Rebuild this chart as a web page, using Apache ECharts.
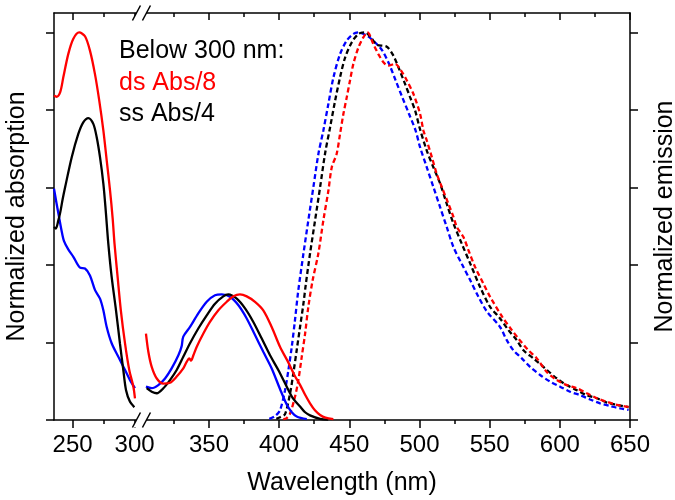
<!DOCTYPE html>
<html><head><meta charset="utf-8">
<script src="https://cdn.jsdelivr.net/npm/echarts@6/dist/echarts.min.js"></script>
<style>html,body{margin:0;padding:0;background:#fff}#c{width:675px;height:500px}</style>
</head><body><div id="c"></div>
<script>
// ---- tick values ----
const leftMajorTicks = [250, 300];
const leftMinorTicks = [275];
const rightMajorTicks = [350, 400, 450, 500, 550, 600, 650];
const rightMinorTicks = [325, 375, 425, 475, 525, 575, 625];
const yTicks = [0, 0.2, 0.4, 0.6, 0.8, 1.0];

// ---- absorption below 300 nm (scaled) ----
const dsAbsBelow300 = [[235,0.837],[237,0.834],[240,0.846],[242.5,0.884],[246.5,0.944],[250.5,0.983],[255.3,1.0],[260,0.99],[264,0.953],[268,0.893],[271.5,0.824],[274.8,0.747],[277.5,0.67],[280.2,0.592],[282.3,0.52],[283.8,0.455],[286.3,0.369],[288.9,0.283],[292.3,0.197],[295.7,0.129],[299,0.086],[300.3,0.056]];
const ssAbsBelow300 = [[235,0.498],[236.5,0.494],[238.5,0.515],[240,0.535],[242,0.57],[244,0.601],[249.3,0.678],[254.6,0.738],[258.6,0.768],[262.7,0.779],[266.7,0.764],[269.4,0.73],[272.1,0.678],[274.8,0.61],[276.7,0.541],[278.8,0.455],[281.5,0.369],[285,0.283],[288.2,0.197],[290.9,0.129],[293.1,0.077],[296.3,0.047],[299.8,0.033]];
const blueAbsBelow300 = [[235,0.597],[237,0.56],[239,0.525],[241,0.49],[243,0.462],[246.5,0.44],[250.6,0.421],[256,0.393],[260,0.391],[264,0.373],[268.1,0.335],[272.1,0.313],[274.8,0.283],[277.5,0.24],[281.5,0.198],[286.9,0.163],[292.3,0.129],[296.3,0.103],[300.3,0.082]];

// ---- absorption above 300 nm ----
const dsAbsAbove300 = [[305.1,0.223],[306.8,0.176],[309.2,0.137],[312.8,0.107],[317.5,0.094],[322.2,0.096],[327,0.112],[331.7,0.133],[334.1,0.15],[336,0.159],[337.2,0.153],[338.9,0.167],[341.3,0.189],[346,0.223],[350.7,0.253],[356.7,0.283],[362.7,0.305],[367.4,0.319],[372.1,0.324],[376.9,0.319],[382.8,0.305],[388.7,0.283],[394.7,0.24],[400.6,0.189],[406.6,0.148],[411,0.115],[415,0.09],[418.5,0.065],[422,0.043],[425.5,0.025],[429.2,0.013],[433,0.006],[438.6,0.002]];
const ssAbsAbove300 = [[305.6,0.082],[309.2,0.073],[312.8,0.069],[317.5,0.082],[322.2,0.103],[327,0.129],[331.7,0.163],[336.5,0.198],[342.4,0.236],[348.4,0.27],[354.3,0.3],[360.2,0.319],[363.8,0.324],[369.8,0.313],[375.7,0.288],[381.6,0.253],[387.6,0.21],[393.5,0.167],[399.4,0.129],[405.4,0.086],[410,0.055],[414.9,0.035],[418.5,0.02],[422,0.012],[429.2,0.003],[435,0.001]];
const blueAbsAbove300 = [[305.1,0.086],[309.2,0.082],[313.9,0.09],[318.7,0.107],[323.4,0.133],[328.2,0.167],[330.5,0.19],[331.7,0.215],[336.5,0.24],[342.4,0.275],[348.4,0.305],[354.3,0.322],[359.1,0.324],[365,0.318],[371,0.296],[376.9,0.262],[382.8,0.219],[388.7,0.176],[394.7,0.133],[400.6,0.08],[405.4,0.04],[409,0.02],[412.5,0.009],[419.7,0.002]];

// ---- emission ----
const blueEm = [[393,0.003],[397,0.01],[400.6,0.025],[404.2,0.077],[406.6,0.129],[409,0.189],[411.3,0.258],[413.5,0.33],[417.3,0.429],[420.8,0.515],[424.4,0.601],[428,0.687],[431.5,0.747],[435.1,0.816],[438.7,0.884],[443.4,0.944],[448.2,0.979],[452.9,0.996],[456.5,1.0],[462.8,0.991],[468.4,0.974],[473.5,0.953],[478.3,0.919],[483,0.876],[487.7,0.833],[492.5,0.79],[497.2,0.747],[500.4,0.704],[505.2,0.652],[509.9,0.601],[514.7,0.549],[519.4,0.498],[524.2,0.446],[530.1,0.403],[536.1,0.361],[542,0.318],[548,0.28],[557.4,0.24],[562.2,0.206],[566.9,0.18],[572.9,0.159],[578.8,0.137],[586,0.116],[593.1,0.099],[600.2,0.086],[607.3,0.073],[614.5,0.064],[621.6,0.053],[628.7,0.043],[635.8,0.036],[643,0.03],[649,0.026]];
const ssEm = [[398,0.003],[401,0.008],[404.2,0.015],[407.8,0.069],[410.1,0.12],[412.5,0.18],[414.9,0.24],[417.3,0.3],[419,0.35],[422,0.429],[425.6,0.515],[429.2,0.601],[432.7,0.687],[436.3,0.755],[439.9,0.824],[443.4,0.884],[447,0.935],[451.7,0.974],[456.5,0.996],[461.2,1.0],[466,0.984],[469.5,0.968],[476.7,0.963],[481.4,0.94],[485,0.91],[489.7,0.867],[493.3,0.833],[496.9,0.798],[500.4,0.75],[505.2,0.695],[509.9,0.652],[514.7,0.61],[519.4,0.558],[524.2,0.507],[530.1,0.455],[536.1,0.404],[543.2,0.343],[550.3,0.292],[557,0.264],[563.4,0.232],[569.3,0.206],[574.1,0.18],[581.2,0.159],[588.3,0.137],[597.9,0.107],[605,0.09],[612.1,0.077],[619.2,0.064],[626.4,0.056],[633.5,0.045],[640.6,0.039],[649,0.033]];
const dsEm = [[403,0.002],[405.4,0.005],[407.8,0.017],[411.3,0.06],[413.7,0.103],[416.1,0.163],[418.5,0.223],[420.8,0.292],[423.9,0.361],[427.9,0.429],[431.5,0.515],[435.1,0.592],[437.5,0.652],[441,0.687],[443.4,0.738],[445.8,0.79],[448.2,0.833],[450.5,0.876],[452.9,0.919],[456.5,0.961],[460,0.987],[463,1.0],[467.1,0.97],[470.7,0.944],[474.3,0.923],[477.8,0.914],[482.6,0.919],[486.2,0.905],[491,0.876],[495.7,0.841],[500.4,0.79],[502.8,0.747],[505.2,0.721],[508.8,0.678],[512.3,0.635],[515.9,0.601],[520.6,0.558],[524.2,0.524],[526.6,0.498],[531.3,0.472],[534.9,0.438],[539.6,0.395],[545.5,0.352],[550.3,0.318],[559,0.266],[565.8,0.232],[570.5,0.21],[577.6,0.18],[583.6,0.159],[590.7,0.124],[597.9,0.103],[605,0.09],[612.1,0.082],[619.2,0.069],[626.4,0.056],[633.5,0.047],[640.6,0.039],[649,0.034]];

const FONT = '"Liberation Sans", Arial, sans-serif';
const RED = '#ff0000', BLACK = '#000000', BLUE = '#0000ff';

function xAx(grid, min, max, pos, ticks, len, inside, line, labels) {
  return {
    type: 'value', gridIndex: grid, min: min, max: max, position: pos,
    axisLine: { show: line, onZero: false, lineStyle: { color: '#000', width: 1.5 } },
    axisTick: { show: true, customValues: ticks, length: len, inside: inside, lineStyle: { color: '#000', width: 1.5 } },
    axisLabel: labels ? { show: true, customValues: labels, fontSize: 24, fontFamily: FONT, color: '#000', margin: 13 } : { show: false },
    splitLine: { show: false }
  };
}
function yAx(grid, pos, name) {
  return {
    type: 'value', gridIndex: grid, min: 0, max: 1.05, position: pos,
    axisLine: { show: true, onZero: false, lineStyle: { color: '#000', width: 1.5 } },
    axisTick: { show: true, customValues: yTicks, length: 8, inside: false, lineStyle: { color: '#000', width: 1.5 } },
    axisLabel: { show: false },
    splitLine: { show: false },
    name: name, nameLocation: 'middle', nameRotate: 90, nameGap: pos === 'left' ? 24 : 23,
    nameTextStyle: { fontSize: 25, fontFamily: FONT, color: '#000' }
  };
}
function abs(name, data, color, xi, yi) {
  return { name: name, type: 'line', xAxisIndex: xi, yAxisIndex: yi, data: data, showSymbol: false, smooth: 0.3,
    lineStyle: { color: color, width: 2.3 }, itemStyle: { color: color }, z: 3 };
}
function em(name, data, color) {
  return { name: name, type: 'line', xAxisIndex: 4, yAxisIndex: 1, data: data, showSymbol: false, smooth: 0.3,
    lineStyle: { color: color, width: 2.3, type: [5, 3] }, itemStyle: { color: color }, z: 2 };
}

const chart = echarts.init(document.getElementById('c'), null, { renderer: 'canvas' });
const leftMin = 235, leftMax = 302;
chart.setOption({
  animation: false,
  backgroundColor: '#fff',
  grid: [
    { left: 54, top: 13, bottom: 80, width: (leftMax - leftMin) * 1.24, containLabel: false, outerBoundsMode: 'none' },
    { left: 138.8, top: 13, bottom: 80, right: 45, containLabel: false, outerBoundsMode: 'none' }
  ],
  xAxis: [
    xAx(0, leftMin, leftMax, 'bottom', leftMajorTicks, 8, false, true, leftMajorTicks),
    xAx(0, leftMin, leftMax, 'bottom', leftMinorTicks, 4, false, false, null),
    xAx(0, leftMin, leftMax, 'top', leftMajorTicks, 7, true, true, null),
    xAx(0, leftMin, leftMax, 'top', leftMinorTicks, 4, true, false, null),
    xAx(1, 300, 650, 'bottom', rightMajorTicks, 8, false, true, rightMajorTicks),
    xAx(1, 300, 650, 'bottom', rightMinorTicks, 4, false, false, null),
    xAx(1, 300, 650, 'top', rightMajorTicks, 7, true, true, null),
    xAx(1, 300, 650, 'top', rightMinorTicks, 4, true, false, null)
  ],
  yAxis: [
    yAx(0, 'left', 'Normalized absorption'),
    yAx(1, 'right', 'Normalized emission')
  ],
  series: [
    abs('blue Abs', blueAbsBelow300, BLUE, 0, 0),
    abs('ss Abs/4', ssAbsBelow300, BLACK, 0, 0),
    abs('ds Abs/8', dsAbsBelow300, RED, 0, 0),
    abs('blue Abs', blueAbsAbove300, BLUE, 4, 1),
    abs('ss Abs', ssAbsAbove300, BLACK, 4, 1),
    abs('ds Abs', dsAbsAbove300, RED, 4, 1),
    em('blue Em', blueEm, BLUE),
    em('ss Em', ssEm, BLACK),
    em('ds Em', dsEm, RED)
  ],
  graphic: [
    { type: 'text', x: 119, y: 51.5, z: 50, style: { text: 'Below 300 nm:', font: '25px ' + FONT, fill: '#000', verticalAlign: 'middle' } },
    { type: 'text', x: 119, y: 83, z: 50, style: { text: 'ds Abs/8', font: '25px ' + FONT, fill: RED, verticalAlign: 'middle' } },
    { type: 'text', x: 119, y: 114, z: 50, style: { text: 'ss Abs/4', font: '25px ' + FONT, fill: '#000', verticalAlign: 'middle' } },
    { type: 'text', x: 342, y: 483, z: 50, style: { text: 'Wavelength (nm)', font: '25px ' + FONT, fill: '#000', align: 'center', verticalAlign: 'middle' } }
  ]
});

// axis-break marks, positioned from the axes themselves
const xa = chart.convertToPixel({ xAxisIndex: 0 }, leftMax);
const xb = chart.convertToPixel({ xAxisIndex: 4 }, 305);
const cx = (xa + xb) / 2;
const yBottom = chart.convertToPixel({ yAxisIndex: 0 }, 0);
const yTop = chart.convertToPixel({ yAxisIndex: 0 }, 1.05);
const brk = [];
[yBottom, yTop].forEach(function (y, i) {
  const h = 7.5, w = 4, s = 5;
  brk.push({ type: 'polygon', id: 'bw' + i, z: 100, shape: { points: [[cx - s - w, y + h], [cx - s + w, y - h], [cx + s + w, y - h], [cx + s - w, y + h]] }, style: { fill: '#fff', stroke: null } });
  brk.push({ type: 'line', id: 'b1' + i, z: 101, shape: { x1: cx - s - w, y1: y + h, x2: cx - s + w, y2: y - h }, style: { stroke: '#000', lineWidth: 1.5 } });
  brk.push({ type: 'line', id: 'b2' + i, z: 101, shape: { x1: cx + s - w, y1: y + h, x2: cx + s + w, y2: y - h }, style: { stroke: '#000', lineWidth: 1.5 } });
});
chart.setOption({ graphic: brk });
</script>
</body></html>
